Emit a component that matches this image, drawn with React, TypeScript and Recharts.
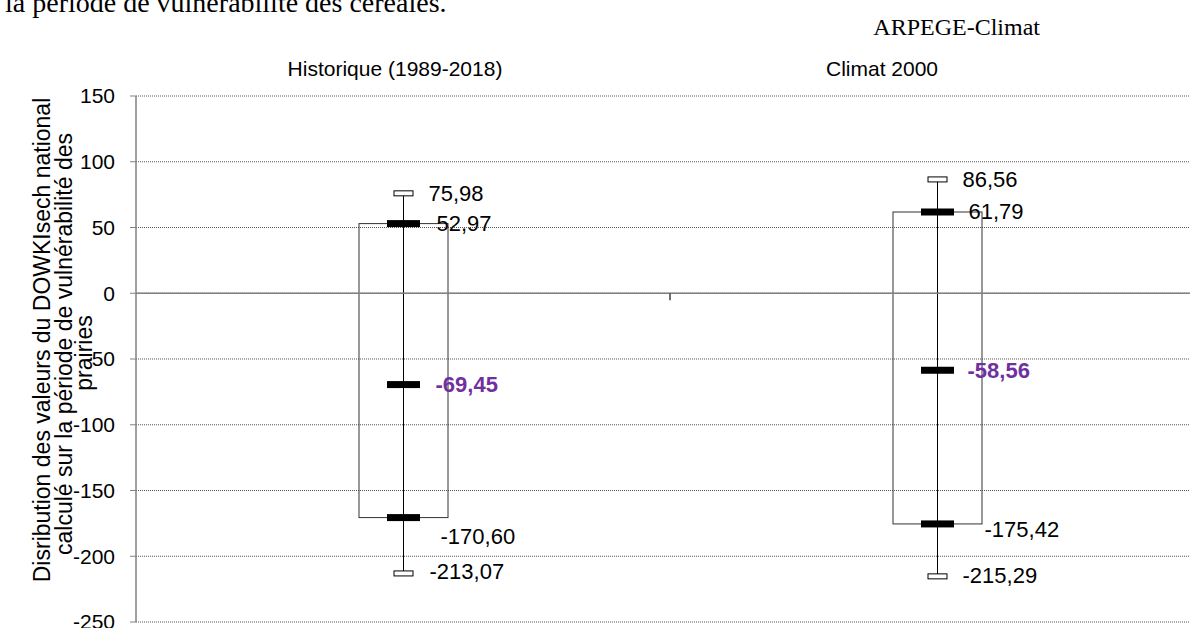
import React from 'react';
import { ComposedChart, Bar, XAxis, YAxis, CartesianGrid, ReferenceLine, Label } from 'recharts';

const categories = ['Historique (1989-2018)', 'Climat 2000'];
const minValues = [-213.07, -215.29];
const q1Values = [-170.6, -175.42];
const medianValues = [-69.45, -58.56];
const q3Values = [52.97, 61.79];
const maxValues = [75.98, 86.56];
const yTicks = [-250, -200, -150, -100, -50, 0, 50, 100, 150];

const data = categories.map((name, i) => ({
  name,
  min: minValues[i],
  q1: q1Values[i],
  median: medianValues[i],
  q3: q3Values[i],
  max: maxValues[i],
}));

const SANS = '"Liberation Sans", Arial, sans-serif';
const SERIF = '"Liberation Serif", "Times New Roman", serif';

// label placement per box (dx from the whisker, dy from the value)
const labelOffsets = [
  { max: [25, 0], q3: [33, 0], median: [32, 0], q1: [37, 19], min: [26, -2] },
  { max: [25, 0], q3: [31, 0], median: [30, 0], q1: [47, 6], min: [25, -1] },
];
const topLabelDx = [-8, -55];

const fmt = (v: number) => v.toFixed(2).replace('.', ',');

function BoxShape(props: any) {
  const { x, y, width, height, payload } = props;
  const idx = Math.max(0, categories.indexOf(payload.name));
  const off = labelOffsets[idx];
  const top = Math.min(y, y + height);
  const bottom = Math.max(y, y + height);
  const span = payload.max - payload.min;
  const py = (v: number) => top + ((payload.max - v) / span) * (bottom - top);
  const cx = x + width / 2;

  const label = (key: 'max' | 'q3' | 'median' | 'q1' | 'min', bold = false, color = '#000') => (
    <text
      x={cx + off[key][0]}
      y={py(payload[key]) + off[key][1]}
      dominantBaseline="central"
      fontFamily={SANS}
      fontSize={22}
      fontWeight={bold ? 'bold' : 'normal'}
      fill={color}
    >
      {fmt(payload[key])}
    </text>
  );

  const thick = (v: number) => (
    <rect x={cx - 16.5} y={py(v) - 3.5} width={33} height={7} fill="#000" />
  );
  const cap = (v: number) => (
    <rect x={cx - 9.5} y={py(v) - 2.5} width={19} height={5} fill="#fff" stroke="#000" strokeWidth={1} />
  );

  return (
    <g>
      <rect
        x={x}
        y={py(payload.q3)}
        width={width}
        height={py(payload.q1) - py(payload.q3)}
        fill="none"
        stroke="#333"
        strokeWidth={1}
      />
      <line x1={cx} x2={cx} y1={py(payload.max)} y2={py(payload.min)} stroke="#000" strokeWidth={1} />
      {thick(payload.q3)}
      {thick(payload.median)}
      {thick(payload.q1)}
      {cap(payload.max)}
      {cap(payload.min)}
      {label('max')}
      {label('q3')}
      {label('median', true, '#7030A0')}
      {label('q1')}
      {label('min')}
    </g>
  );
}

function TopTick(props: any) {
  const { x, payload, index } = props;
  return (
    <text
      x={x + (topLabelDx[index] || 0)}
      y={68}
      textAnchor="middle"
      dominantBaseline="central"
      fontFamily={SANS}
      fontSize={21}
      fill="#000"
    >
      {payload.value}
    </text>
  );
}

function ZeroLine(p: any) {
  const mid = (p.x1 + p.x2) / 2;
  return (
    <g>
      <line x1={p.x1} y1={p.y1} x2={p.x2} y2={p.y2} stroke="#808080" strokeWidth={1.5} />
      <line x1={mid} y1={p.y1} x2={mid} y2={p.y1 + 7} stroke="#404040" strokeWidth={1.5} />
    </g>
  );
}

function YTitle() {
  const lines = [
    { text: 'Disribution des valeurs du DOWKIsech national', x: 42, y: 340 },
    { text: 'calculé sur la période de vulnérabilité des', x: 64, y: 344 },
    { text: 'prairies', x: 84, y: 353 },
  ];
  return (
    <g>
      {lines.map((l) => (
        <text
          key={l.text}
          x={l.x}
          y={l.y}
          transform={`rotate(-90 ${l.x} ${l.y})`}
          textAnchor="middle"
          dominantBaseline="central"
          fontFamily={SANS}
          fontSize={23}
          fill="#000"
        >
          {l.text}
        </text>
      ))}
    </g>
  );
}

export default function App() {
  return (
    <div style={{ position: 'fixed', left: 0, top: 0, width: 1190, height: 628, overflow: 'hidden', background: '#fff' }}>
      <svg width={1190} height={628} style={{ position: 'absolute', left: 0, top: 0, pointerEvents: 'none' }}>
        <text x={5} y={12} fontFamily={SERIF} fontSize={28} fill="#000">
          la période de vulnérabilité des céréales.
        </text>
        <text x={1040} y={35} textAnchor="end" fontFamily={SERIF} fontSize={24} fill="#000">
          ARPEGE-Climat
        </text>
      </svg>
      <div style={{ position: 'absolute', left: 0, top: 0 }}>
        <ComposedChart width={1204} height={640} data={data} margin={{ top: 66, right: 0, bottom: 18, left: 0 }}>
          <CartesianGrid vertical={false} stroke="#555" strokeDasharray="1 1" />
          <XAxis
            xAxisId="top"
            orientation="top"
            dataKey="name"
            height={30}
            axisLine={false}
            tickLine={false}
            interval={0}
            tick={<TopTick />}
          />
          <YAxis
            width={136}
            domain={[-250, 150]}
            ticks={yTicks}
            allowDataOverflow
            axisLine={{ stroke: '#808080', strokeWidth: 1.5 }}
            tickLine={{ stroke: '#808080' }}
            tickSize={6}
            tickMargin={15}
            tick={{ fill: '#000', fontFamily: SANS, fontSize: 21 }}
          >
            <Label content={() => <YTitle />} />
          </YAxis>
          <ReferenceLine xAxisId="top" y={0} shape={ZeroLine} />
          <Bar
            xAxisId="top"
            dataKey={(d: any) => [d.min, d.max]}
            barSize={89}
            shape={BoxShape}
            isAnimationActive={false}
          />
        </ComposedChart>
      </div>
    </div>
  );
}
